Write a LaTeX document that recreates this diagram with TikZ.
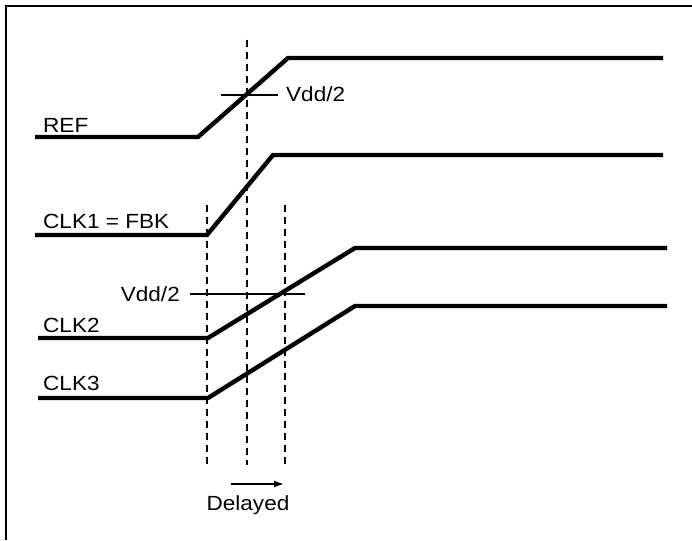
\documentclass[tikz,border=0pt]{standalone}
\usepackage{fontspec}
\setmainfont{Liberation Sans}[FakeStretch=1.1]
\usetikzlibrary{arrows.meta, positioning}
\tikzstyle{sig} = [line width=4.4pt, line join=miter, line cap=butt]
\tikzstyle{lbl} = [font=\fontsize{20.5}{24}\selectfont, inner sep=0pt]
\tikzstyle{guide} = [line width=1.8pt, dash pattern=on 7pt off 5pt]
\tikzstyle{lvl} = [line width=1.3pt]
\tikzstyle{aro} = [-{Latex[length=10pt,width=7pt]}, line width=1.5pt]

\begin{document}
\begin{tikzpicture}[x=1pt, y=-1pt]
  \useasboundingbox (0,0) rectangle (692,540);

  % frame
  \draw [line width=2.4pt] (6,540) -- (6,6) -- (692,6);

  % guide lines
  \coordinate (t0) at (207,205);
  \coordinate (t1) at (247,40);
  \coordinate (t2) at (285,205);
  \draw [guide] (t0) -- (t0 |- 0,465);
  \draw [guide] (t1) -- (t1 |- 0,465);
  \draw [guide] (t2) -- (t2 |- 0,465);

  % signals
  \draw [sig] (35,137) -- (198,137) -- (288,58) -- (663,58);
  \draw [sig] (35,235) -- (207,235) -- (273,155) -- (663,155);
  \draw [sig] (38,338) -- (208,338) -- (355,248) -- (667,248);
  \draw [sig] (38,398) -- (208,398) -- (355,306) -- (667,306);

  \node (ref)  [lbl, anchor=base west] at (43,132) {REF};
  \node (clka) [lbl, anchor=base west] at (43,228) {CLK1 = FBK};
  \node (clkb) [lbl, anchor=base west] at (43,332) {CLK2};
  \node (clkc) [lbl, anchor=base west] at (43,390) {CLK3};

  % Vdd/2 marks
  \node (vref) [lbl, anchor=base west] at (286,102) {Vdd/2};
  \draw [lvl] (221,95) -- (278,95);
  \node (vclk) [lbl, anchor=base east] at (180,301) {Vdd/2};
  \draw [lvl] (190,294) -- (305,294);

  % delay
  \coordinate (d0) at (231,484);
  \coordinate (d1) at (284,484);
  \draw [aro] (d0) -- (d1);
  \node (dly) [lbl, anchor=base] at (248,510) {Delayed};

\end{tikzpicture}
\end{document}
